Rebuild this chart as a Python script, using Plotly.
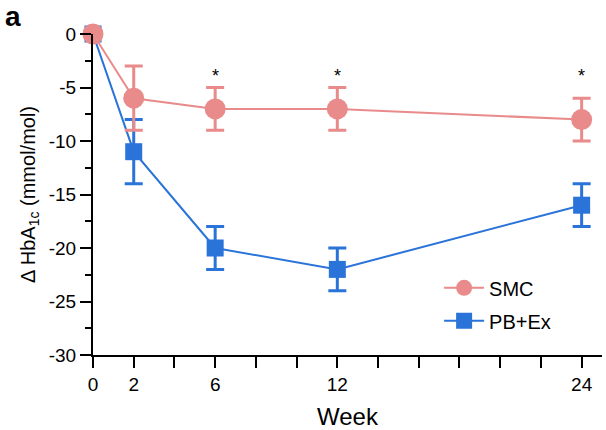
import plotly.graph_objects as go

weeks = [0, 2, 6, 12, 24]
smc_mean = [0, -6, -7, -7, -8]
smc_err = [0, 3, 2, 2, 2]
pbex_mean = [0, -11, -20, -22, -16]
pbex_err = [0, 3, 2, 2, 2]
star_weeks = [6, 12, 24]
star_y = [-3.9, -3.9, -3.9]
x_ticks = list(range(0, 26, 2))
x_labels = [str(v) if v in (0, 2, 6, 12, 24) else "" for v in x_ticks]
y_ticks = [0, -5, -10, -15, -20, -25, -30]
y_labels = ["0", "-5", "-10", "-15", "-20", "-25", "-30"]

PINK = "#E98A8B"
BLUE = "#2A73D9"
FONT = "Arial, Liberation Sans, Helvetica, sans-serif"

fig = go.Figure()
fig.add_trace(go.Scatter(
    x=weeks, y=pbex_mean, mode="lines+markers", name="PB+Ex", legendgroup="b", legendrank=2,
    line=dict(color=BLUE, width=2),
    marker=dict(symbol="square", size=17, color=BLUE),
    error_y=dict(type="data", array=pbex_err, visible=True, color=BLUE, thickness=3, width=9),
    cliponaxis=False,
))
fig.add_trace(go.Scatter(
    x=weeks, y=smc_mean, mode="lines+markers", name="SMC", legendgroup="a", legendrank=1,
    line=dict(color=PINK, width=2),
    marker=dict(symbol="circle", size=21, color=PINK),
    error_y=dict(type="data", array=smc_err, visible=True, color=PINK, thickness=3, width=9),
    cliponaxis=False,
))

for xs, ys in zip(star_weeks, star_y):
    fig.add_annotation(x=xs, y=ys, text="*", showarrow=False,
                       font=dict(size=18, color="black", family=FONT))

fig.add_annotation(xref="paper", yref="paper", x=-0.176, y=1.055, xanchor="left", yanchor="middle",
                   text="<b>a</b>", showarrow=False, font=dict(size=28, color="black", family=FONT))

fig.add_annotation(xref="paper", yref="paper", x=0.5, y=-0.193, xanchor="center", yanchor="middle",
                   text="Week", showarrow=False, font=dict(size=24, color="black", family=FONT))

fig.update_layout(
    width=606, height=430,
    margin=dict(l=93, r=4, t=34, b=75),
    paper_bgcolor="white", plot_bgcolor="white",
    font=dict(family=FONT, size=19, color="black"),
    showlegend=True,
    legend=dict(x=0.68, y=0.27, xanchor="left", yanchor="top", traceorder="grouped",
                bgcolor="rgba(0,0,0,0)", font=dict(size=20), itemwidth=40, tracegroupgap=4),
    xaxis=dict(range=[0, 25], tickvals=x_ticks, ticktext=x_labels,
               showline=True, linecolor="black", linewidth=2,
               ticks="outside", ticklen=11, tickwidth=2, tickcolor="black",
               showgrid=False, zeroline=False, automargin=False),
    yaxis=dict(range=[-30, 0], tickvals=y_ticks, ticktext=y_labels,
               showline=True, linecolor="black", linewidth=2,
               ticks="outside", ticklen=11, tickwidth=2, tickcolor="black",
               minor=dict(dtick=2.5, tick0=0, ticks="outside", ticklen=6, tickwidth=2, tickcolor="black"),
               showgrid=False, zeroline=False, automargin=False,
               title=dict(text="Δ HbA<sub>1c</sub> (mmol/mol)", font=dict(size=20), standoff=8)),
)

fig.write_html("out.html")
